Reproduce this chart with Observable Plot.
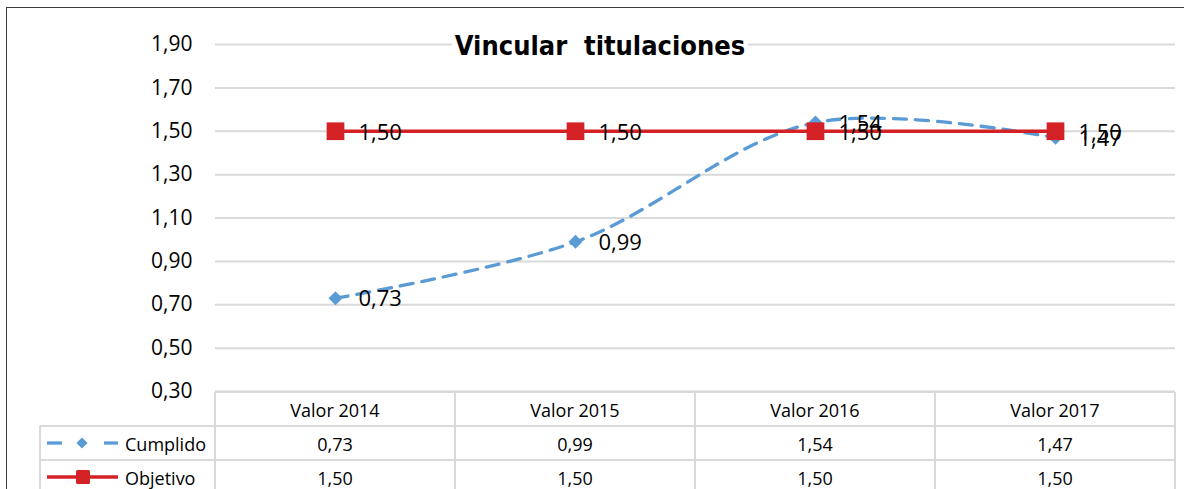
<!DOCTYPE html>
<html>
<head>
<meta charset="utf-8">
<script src="https://cdn.jsdelivr.net/npm/d3@7"></script>
<script src="https://cdn.jsdelivr.net/npm/@observablehq/plot@0.6"></script>
<style>
  html, body { margin: 0; padding: 0; background: #fff; }
  body { width: 1184px; height: 489px; overflow: hidden; position: relative; font-family: "Open Sans", sans-serif; }
  #frame { position: absolute; left: 6px; top: 7px; width: 1200px; height: 500px; border-left: 1.5px solid #3c3c3c; border-top: 1.5px solid #3c3c3c; pointer-events: none; }
  #chart { position: absolute; left: 0; top: 0; }
  #table { position: absolute; left: 0; top: 392px; }
  #title { position: absolute; top: 31px; left: 600px; transform: translateX(-50%); background: #fff; padding: 0 3px;
           font-family: "DejaVu Sans Condensed", "DejaVu Sans", sans-serif; font-stretch: condensed; font-weight: bold;
           font-size: 27px; line-height: 30px; white-space: pre; color: #000; }
</style>
</head>
<body>
<div id="chart"></div>
<div id="table"></div>
<div id="title">Vincular  titulaciones</div>
<div id="frame"></div>
<script>
// ---- data ----
const categories = ["Valor 2014", "Valor 2015", "Valor 2016", "Valor 2017"];
const cumplido = [0.73, 0.99, 1.54, 1.47];
const objetivo = [1.50, 1.50, 1.50, 1.50];
const seriesNames = ["Cumplido", "Objetivo"];
const yTicks = [0.30, 0.50, 0.70, 0.90, 1.10, 1.30, 1.50, 1.70, 1.90];

const fmt = v => v.toFixed(2).replace(".", ",");
const dataC = categories.map((c, i) => ({cat: c, v: cumplido[i]}));
const dataO = categories.map((c, i) => ({cat: c, v: objetivo[i]}));

const blue = "#5b9bd5", red = "#d42126", grid = "#d9d9d9";

const chart = Plot.plot({
  width: 1184, height: 392,
  marginLeft: 215, marginRight: 9, marginTop: 44, marginBottom: 1,
  style: {fontFamily: "Open Sans, sans-serif", fontSize: "21px", color: "#000", background: "transparent", overflow: "visible"},
  x: {type: "point", domain: categories, padding: 0.5, axis: null},
  y: {domain: [0.3, 1.9], ticks: yTicks, tickFormat: fmt, tickSize: 0, tickPadding: 23, label: null},
  marks: [
    Plot.ruleY(yTicks, {stroke: grid, strokeWidth: 2, strokeOpacity: 1}),
    Plot.line(dataC, {x: "cat", y: "v", curve: "catmull-rom", stroke: blue, strokeWidth: 3.3, strokeDasharray: "13,9"}),
    Plot.dot(dataC, {x: "cat", y: "v", symbol: "diamond2", r: 6.3, fill: blue, stroke: "none"}),
    Plot.line(dataO, {x: "cat", y: "v", stroke: red, strokeWidth: 3.3}),
    Plot.dot(dataO, {x: "cat", y: "v", symbol: "square", r: 10, fill: red, stroke: "none"}),
    Plot.text(dataC, {x: "cat", y: "v", text: d => fmt(d.v), textAnchor: "start", dx: 23, dy: 1, fontSize: 22, fill: "#000"}),
    Plot.text(dataO, {x: "cat", y: "v", text: d => fmt(d.v), textAnchor: "start", dx: 23, dy: 2, fontSize: 22, fill: "#000"})
  ]
});
document.getElementById("chart").appendChild(chart);

// ---- data table below the chart, aligned on the chart's x scale ----
const xs = chart.scale("x");
const centers = categories.map(c => xs.apply(c));
const step = centers[1] - centers[0];
const colLeft = centers[0] - step / 2;
const colRight = centers[centers.length - 1] + step / 2;
const legendLeft = 40;
const rowH = 34;

const svg = d3.create("svg").attr("width", 1184).attr("height", 97)
  .style("font-family", "Open Sans, sans-serif").style("display", "block");
const g = svg.append("g").attr("stroke", grid).attr("stroke-width", 2).attr("fill", "none");
// horizontal lines
g.append("line").attr("x1", colLeft).attr("x2", colRight).attr("y1", 0).attr("y2", 0);
[1, 2].forEach(k => g.append("line").attr("x1", legendLeft).attr("x2", colRight).attr("y1", k * rowH).attr("y2", k * rowH));
// vertical lines
g.append("line").attr("x1", legendLeft).attr("x2", legendLeft).attr("y1", rowH).attr("y2", 97);
[colLeft, ...centers.map(c => c + step / 2)].forEach(x =>
  g.append("line").attr("x1", x).attr("x2", x).attr("y1", 0).attr("y2", 97));

const t = svg.append("g").attr("fill", "#000").attr("font-size", 18).attr("text-anchor", "middle").attr("dominant-baseline", "central");
categories.forEach((c, i) => {
  t.append("text").attr("x", centers[i]).attr("y", rowH * 0.5 + 1).text(c);
  t.append("text").attr("x", centers[i]).attr("y", rowH * 1.5 + 1).text(fmt(cumplido[i]));
  t.append("text").attr("x", centers[i]).attr("y", rowH * 2.5 + 1).text(fmt(objetivo[i]));
});
// legend column
t.append("text").attr("x", 125).attr("y", rowH * 1.5 + 1).attr("text-anchor", "start").text(seriesNames[0]);
t.append("text").attr("x", 125).attr("y", rowH * 2.5 + 1).attr("text-anchor", "start").text(seriesNames[1]);
const k1 = svg.append("g").attr("stroke", blue).attr("stroke-width", 3.3);
k1.append("line").attr("x1", 47).attr("x2", 62).attr("y1", rowH * 1.5).attr("y2", rowH * 1.5);
k1.append("line").attr("x1", 104).attr("x2", 118).attr("y1", rowH * 1.5).attr("y2", rowH * 1.5);
svg.append("path").attr("d", d3.symbol(d3.symbolDiamond2, 80)()).attr("transform", `translate(82,${rowH * 1.5})`).attr("fill", blue);
svg.append("line").attr("x1", 47).attr("x2", 118).attr("y1", rowH * 2.5).attr("y2", rowH * 2.5).attr("stroke", red).attr("stroke-width", 3.3);
svg.append("rect").attr("x", 76).attr("y", rowH * 2.5 - 7).attr("width", 14).attr("height", 14).attr("rx", 1.5).attr("fill", red);
document.getElementById("table").appendChild(svg.node());
</script>
</body>
</html>
